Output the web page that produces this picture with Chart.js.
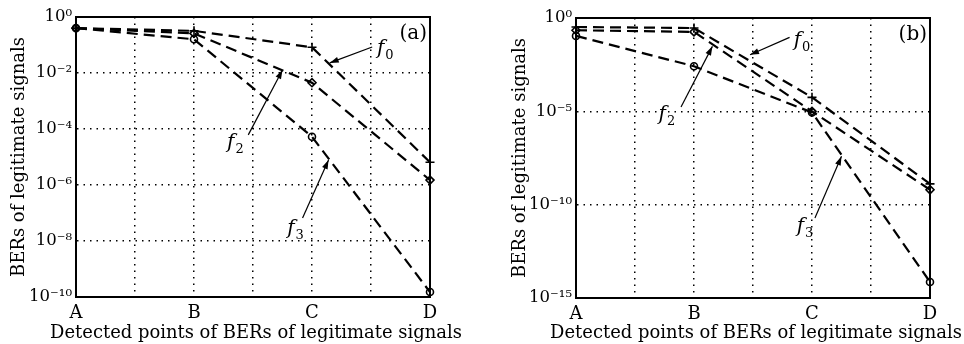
<!DOCTYPE html>
<html><head><meta charset="utf-8">
<script src="https://cdn.jsdelivr.net/npm/chart.js@4"></script>
<style>
html,body{margin:0;padding:0;background:#fff;}
#wrap{position:relative;width:964px;height:344px;background:#fff;}
.panel{position:absolute;top:0;width:482px;height:344px;}
</style></head><body>
<div id="wrap">
<div class="panel" style="left:0"><canvas id="ca" width="482" height="344"></canvas></div>
<div class="panel" style="left:482px"><canvas id="cb" width="482" height="344"></canvas></div>
</div>
<script>
// ---- data ----
const categories = ['A', 'B', 'C', 'D'];
const xPositions = [0, 1, 2, 3];
const xGridTicks = [0, 0.5, 1, 1.5, 2, 2.5, 3];
const seriesNames = ['f0', 'f2', 'f3'];

// panel (a)
const f0_a = [0.4, 0.32, 0.083, 6.5e-6];
const f2_a = [0.4, 0.26, 4.5e-3, 1.5e-6];
const f3_a = [0.4, 0.16, 5.3e-5, 1.5e-10];
const yTicks_a = [1, 1e-2, 1e-4, 1e-6, 1e-8, 1e-10];
const yTickLabels_a = ['10\u2070', '10\u207B\u00B2', '10\u207B\u2074', '10\u207B\u2076', '10\u207B\u2078', '10\u207B\u00B9\u2070'];

// panel (b)
const f0_b = [0.33, 0.29, 5.6e-5, 1.3e-9];
const f2_b = [0.22, 0.18, 1.0e-5, 6.3e-10];
const f3_b = [0.11, 2.6e-3, 8.7e-6, 7.2e-15];
const yTicks_b = [1, 1e-5, 1e-10, 1e-15];
const yTickLabels_b = ['10\u2070', '10\u207B\u2075', '10\u207B\u00B9\u2070', '10\u207B\u00B9\u2075'];

const xTitle = 'Detected points of BERs of legitimate signals';
const yTitle = 'BERs of legitimate signals';

// ---- styling / layout ----
const FONT = '"DejaVu Serif", "Liberation Serif", serif';
const markerStyles = { f0: 'cross', f2: 'rectRot', f3: 'circle' };
const markerRadius = { f0: 4.5, f2: 4, f3: 3.5 };

function makeDataset(name, values) {
  return {
    label: name,
    data: xPositions.map((x, i) => ({ x: x, y: values[i] })),
    borderColor: '#000',
    borderWidth: 2.2,
    borderDash: [11, 6],
    fill: false,
    tension: 0,
    clip: false,
    pointStyle: markerStyles[name],
    pointRadius: markerRadius[name],
    pointBorderWidth: 1.6,
    pointBorderColor: '#000',
    pointBackgroundColor: 'rgba(0,0,0,0)'
  };
}

function framePlugin(notes, label) {
  return {
    id: 'frame',
    afterDraw(chart) {
      const ctx = chart.ctx;
      const { left, right, top, bottom } = chart.chartArea;
      const xs = chart.scales.x, ys = chart.scales.y;
      const px = v => xs.getPixelForValue(v);
      const py = lg => ys.getPixelForValue(Math.pow(10, lg));
      ctx.save();
      ctx.setLineDash([]);
      ctx.strokeStyle = '#000';
      ctx.lineWidth = 2;
      ctx.strokeRect(left, top, right - left, bottom - top);
      ctx.fillStyle = '#000';
      // annotations
      for (const n of notes) {
        const x0 = px(n.from[0]), y0 = py(n.from[1]);
        const x1 = px(n.to[0]), y1 = py(n.to[1]);
        ctx.lineWidth = 1.2;
        ctx.beginPath(); ctx.moveTo(x0, y0); ctx.lineTo(x1, y1); ctx.stroke();
        const ang = Math.atan2(y1 - y0, x1 - x0);
        const L = 9, W = 3;
        ctx.beginPath();
        ctx.moveTo(x1, y1);
        ctx.lineTo(x1 - L * Math.cos(ang) + W * Math.sin(ang), y1 - L * Math.sin(ang) - W * Math.cos(ang));
        ctx.lineTo(x1 - L * Math.cos(ang) - W * Math.sin(ang), y1 - L * Math.sin(ang) + W * Math.cos(ang));
        ctx.closePath(); ctx.fill();
        const tx = px(n.text[0]), ty = py(n.text[1]);
        ctx.textBaseline = 'alphabetic';
        ctx.textAlign = 'left';
        ctx.font = 'italic 20px ' + FONT;
        ctx.fillText(n.main, tx, ty);
        const w = ctx.measureText(n.main).width;
        ctx.font = '13px ' + FONT;
        ctx.fillText(n.sub, tx + w + 1, ty + 5);
      }
      // panel label
      ctx.font = '20px ' + FONT;
      ctx.textAlign = 'right';
      ctx.textBaseline = 'alphabetic';
      ctx.fillText(label, right - 3, top + 22);
      // x axis title (drawn without width compression)
      ctx.font = '20px ' + FONT;
      const natural = ctx.measureText(xTitle).width;
      const size = 20 * 412 / natural;
      ctx.font = size.toFixed(2) + 'px ' + FONT;
      ctx.textAlign = 'center';
      ctx.fillText(xTitle, (left + right) / 2 + 3, 338);
      ctx.restore();
    }
  };
}

function makeChart(id, sets, yMin, yTicks, yLabels, yWidth, xHeight, pad, yTitlePad, notes, label) {
  return new Chart(document.getElementById(id), {
    type: 'line',
    data: { datasets: sets },
    options: {
      responsive: false,
      animation: false,
      events: [],
      layout: { padding: pad },
      plugins: { legend: { display: false }, tooltip: { enabled: false } },
      scales: {
        x: {
          type: 'linear', min: 0, max: 3,
          afterBuildTicks: s => { s.ticks = xGridTicks.map(v => ({ value: v })); },
          afterFit: s => { s.height = xHeight; },
          ticks: {
            autoSkip: false, maxRotation: 0, padding: 6, color: '#000',
            font: { family: FONT, size: 18 },
            callback: v => Number.isInteger(v) ? categories[v] : ''
          },
          grid: { color: '#000', lineWidth: 1.5, drawTicks: false },
          border: { display: true, color: '#000', width: 2, dash: [1.5, 5] },
          title: { display: false }
        },
        y: {
          type: 'logarithmic', min: yMin, max: 1,
          afterBuildTicks: s => { s.ticks = yTicks.map(v => ({ value: v })); },
          afterFit: s => { s.width = yWidth; },
          ticks: {
            autoSkip: false, padding: 4, color: '#000',
            font: { family: FONT, size: 16.5 },
            callback: (v, i) => yLabels[i]
          },
          grid: { color: '#000', lineWidth: 1.5, drawTicks: false },
          border: { display: true, color: '#000', width: 2, dash: [1.5, 5] },
          title: { display: true, text: yTitle, color: '#000', font: { family: FONT, size: 18 }, padding: { top: yTitlePad, bottom: 0 } }
        }
      }
    },
    plugins: [framePlugin(notes, label)]
  });
}

const notesA = [
  { main: 'f', sub: '0', text: [2.55, -1.32], from: [2.51, -1.07], to: [2.15, -1.64] },
  { main: 'f', sub: '2', text: [1.28, -4.68], from: [1.46, -4.21], to: [1.75, -1.89] },
  { main: 'f', sub: '3', text: [1.79, -7.75], from: [1.92, -7.18], to: [2.14, -5.11] }
];
const notesB = [
  { main: 'f', sub: '0', text: [1.845, -1.48], from: [1.81, -1.04], to: [1.475, -1.97] },
  { main: 'f', sub: '2', text: [0.70, -5.45], from: [0.89, -4.77], to: [1.156, -1.52] },
  { main: 'f', sub: '3', text: [1.87, -11.45], from: [2.025, -10.71], to: [2.25, -7.41] }
];

makeChart('ca',
  [makeDataset('f0', f0_a), makeDataset('f2', f2_a), makeDataset('f3', f3_a)],
  1e-10, yTicks_a, yTickLabels_a, 76, 47, { left: 0, right: 52, top: 17, bottom: 0 }, 9, notesA, '(a)');
makeChart('cb',
  [makeDataset('f0', f0_b), makeDataset('f2', f2_b), makeDataset('f3', f3_b)],
  1e-15, yTicks_b, yTickLabels_b, 94, 46, { left: 0, right: 34, top: 18, bottom: 0 }, 28, notesB, '(b)');
</script>
</body></html>
